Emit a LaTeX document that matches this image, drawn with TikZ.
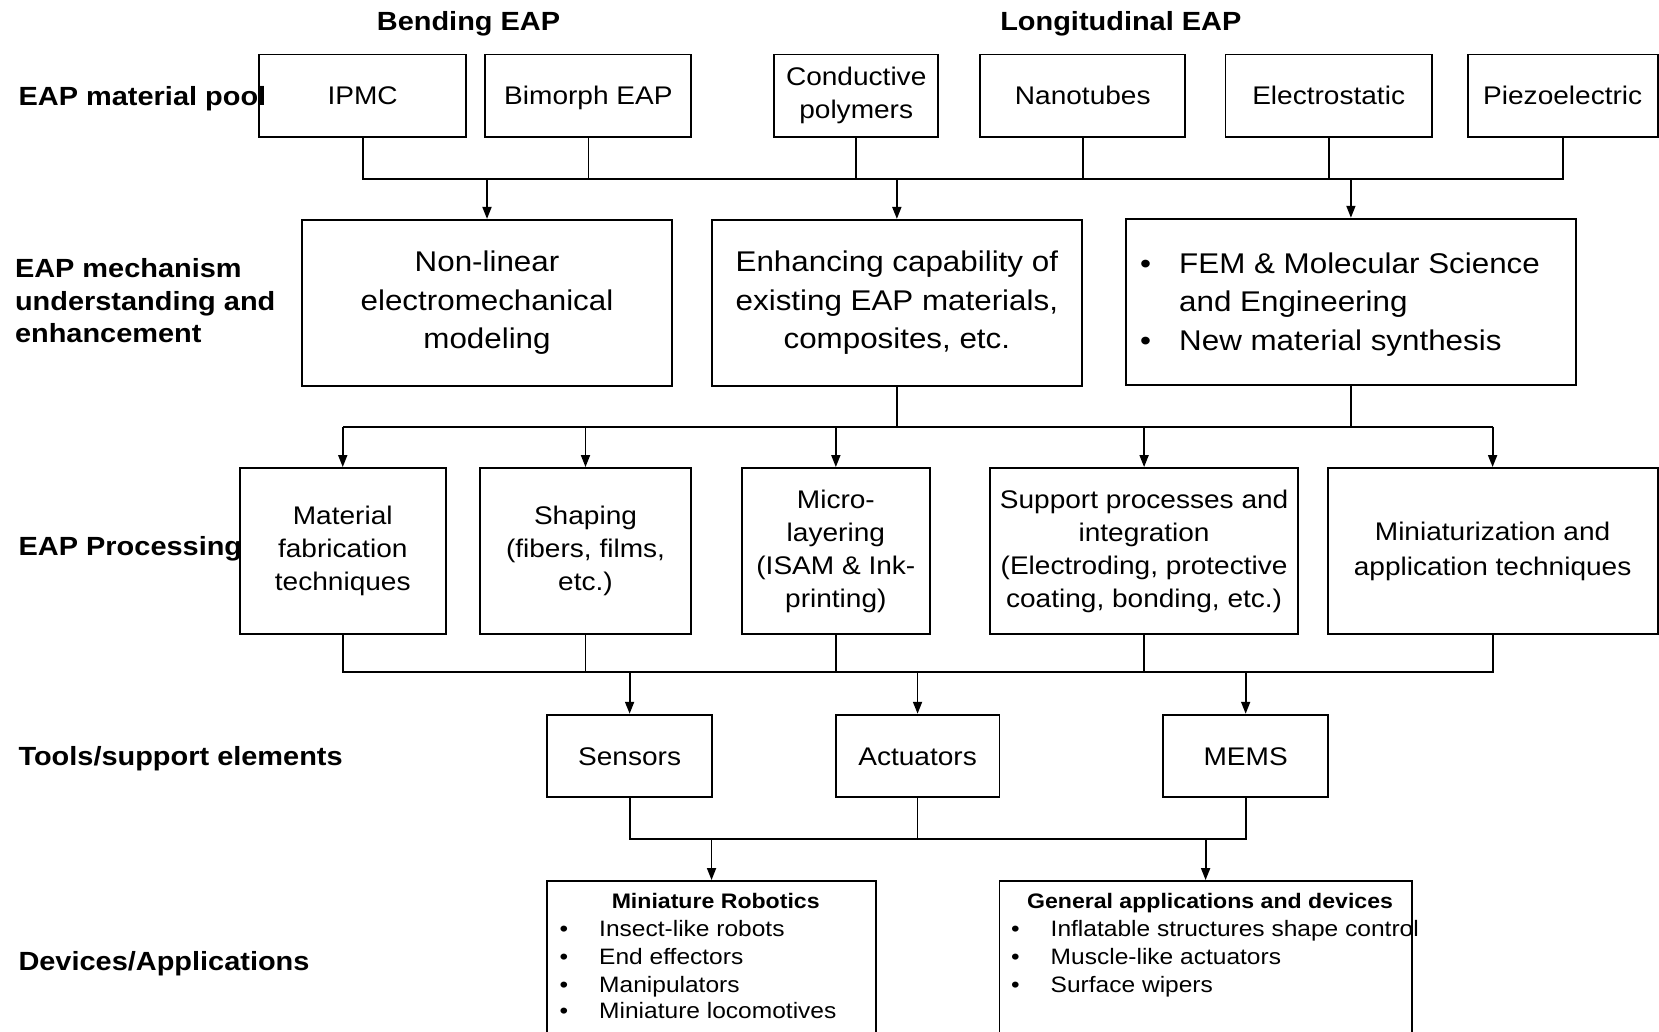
\documentclass[tikz,border=0pt]{standalone}
\usepackage{fontspec}
\setmainfont{Liberation Sans}[FakeStretch=1.1]
\usetikzlibrary{arrows.meta}
\newcommand\myfA{\fontsize{25.5}{33}\selectfont}
\newcommand\myfB{\fontsize{28.5}{38.5}\selectfont}
\newcommand\myfL{\fontsize{26.3}{33}\selectfont\bfseries}
\newcommand\myfD{\fontsize{22.3}{27}\selectfont}
\newcommand\myfT{\fontsize{21}{27}\selectfont\bfseries}
\begin{document}
\begin{tikzpicture}[x=1pt,y=-1pt,
  box/.style={draw, line width=1.9pt, inner sep=0pt, align=center, font=\myfA},
  one/.style={box, text height=22pt, text depth=3.5pt},
  mbox/.style={box, font=\myfB},
  conn/.style={line width=1.8pt},
  arr/.style={line width=1.8pt, -{Triangle[length=12pt,width=9pt]}},
  lab/.style={font=\myfL, anchor=base west, inner sep=0pt},
  txt/.style={anchor=base west, inner sep=0pt},
  bul/.style={anchor=base, inner sep=0pt}]
\fill[white] (0,0) rectangle (1659,1031);
\path[use as bounding box] (0,0) rectangle (1659,1031);
\clip (0,0) rectangle (1659,1031);

% headings
\node[font=\myfL, anchor=base, inner sep=0pt] (hbend) at (468.5,30.7) {Bending EAP};
\node[font=\myfL, anchor=base, inner sep=0pt] (hlong) at (1120.8,30.7) {Longitudinal EAP};

% left labels
\node[lab] (l1) at (18.5,105) {EAP material pool};
\node[lab] (l2a) at (14.8,277) {EAP mechanism};
\node[lab] (l2b) at (14.8,310.5) {understanding and};
\node[lab] (l2c) at (14.8,342.5) {enhancement};
\node[lab] (l3) at (18.5,555.5) {EAP Processing};
\node[lab] (l4) at (18.3,765.5) {Tools/support elements};
\node[lab] (l5) at (18.3,970.5) {Devices/Applications};

% row 1
\node[one, minimum width=206.5pt, minimum height=82.2pt] (ipmc) at (362.65,95.6) {IPMC};
\node[one, minimum width=206pt, minimum height=82.2pt] (bim) at (588.4,95.6) {Bimorph EAP};
\node[box, minimum width=164.4pt, minimum height=82.2pt] (cond) at (856.2,95.6) {Conductive\\polymers};
\node[one, minimum width=205.1pt, minimum height=82.2pt] (nano) at (1082.75,95.6) {Nanotubes};
\node[one, minimum width=206.3pt, minimum height=82.2pt] (elec) at (1328.65,95.6) {Electrostatic};
\node[one, minimum width=190pt, minimum height=82.2pt] (piezo) at (1562.7,95.6) {Piezoelectric};

% row 2
\node[mbox, minimum width=370.6pt, minimum height=166.3pt] (nonlin) at (487,303) {Non-linear\\electromechanical\\modeling};
\node[mbox, minimum width=369.7pt, minimum height=166.3pt] (enh) at (896.85,303) {Enhancing capability of\\existing EAP materials,\\composites, etc.};
\node[mbox, minimum width=450.6pt, minimum height=166.3pt] (fem) at (1350.9,301.85) {};
\node[bul, font=\myfB] (fb1) at (1145.7,273.3) {•};
\node[txt, font=\myfB] (ft1) at (1179,273.3) {FEM \& Molecular Science};
\node[txt, font=\myfB] (ft2) at (1179,311.7) {and Engineering};
\node[bul, font=\myfB] (fb2) at (1145.7,350) {•};
\node[txt, font=\myfB] (ft3) at (1179,350) {New material synthesis};

% row 3
\node[box, minimum width=205.9pt, minimum height=166pt] (mat) at (342.75,551) {Material\\fabrication\\techniques};
\node[box, minimum width=211.8pt, minimum height=166pt] (shap) at (585.5,551) {Shaping\\(fibers, films,\\etc.)};
\node[box, minimum width=188.3pt, minimum height=166pt] (micro) at (835.85,551) {Micro-\\layering\\(ISAM \& Ink-\\printing)};
\node[box, minimum width=307.8pt, minimum height=166pt] (supp) at (1144.1,551) {Support processes and\\integration\\(Electroding, protective\\coating, bonding, etc.)};
\node[box, minimum width=330pt, minimum height=166pt, font=\fontsize{25.5}{35}\selectfont] (mini) at (1492.6,551) {Miniaturization and\\application techniques};

% row 4
\node[one, minimum width=164.6pt, minimum height=82.3pt] (sens) at (629.6,755.85) {Sensors};
\node[one, minimum width=163.9pt, minimum height=82.3pt] (act) at (917.55,755.85) {Actuators};
\node[one, minimum width=164.5pt, minimum height=82.3pt] (mems) at (1245.65,755.85) {MEMS};

% row 5
\node[box, minimum width=328.5pt, minimum height=169pt] (robot) at (711.55,965.5) {};
\node[box, minimum width=412.2pt, minimum height=169pt] (gen) at (1205.6,965.5) {};
\node[font=\myfT, anchor=base, inner sep=0pt] (rt) at (715.7,908.3) {Miniature Robotics};
\node[bul, font=\myfD] (rb1) at (563.9,936.7) {•};
\node[txt, font=\myfD] (r1) at (599,936.7) {Insect-like robots};
\node[bul, font=\myfD] (rb2) at (563.9,964.3) {•};
\node[txt, font=\myfD] (r2) at (599,964.3) {End effectors};
\node[bul, font=\myfD] (rb3) at (563.9,992.3) {•};
\node[txt, font=\myfD] (r3) at (599,992.3) {Manipulators};
\node[bul, font=\myfD] (rb4) at (563.9,1018.3) {•};
\node[txt, font=\myfD] (r4) at (599,1018.3) {Miniature locomotives};
\node[font=\myfT, anchor=base, inner sep=0pt] (gt) at (1210,908.3) {General applications and devices};
\node[bul, font=\myfD] (gb1) at (1015.4,936.7) {•};
\node[txt, font=\myfD] (g1) at (1050.5,936.7) {Inflatable structures shape control};
\node[bul, font=\myfD] (gb2) at (1015.4,964.3) {•};
\node[txt, font=\myfD] (g2) at (1050.5,964.3) {Muscle-like actuators};
\node[bul, font=\myfD] (gb3) at (1015.4,992.3) {•};
\node[txt, font=\myfD] (g3) at (1050.5,992.3) {Surface wipers};

% bus coordinates
\coordinate (b1) at (0,178.7);
\coordinate (b2) at (0,426.7);
\coordinate (b3) at (0,672.3);
\coordinate (b4) at (0,838.7);

% row1 -> row2
\draw[conn] (ipmc.south) -- (ipmc.south |- b1) -- (piezo.south |- b1) -- (piezo.south);
\foreach \n in {bim,cond,nano,elec} \draw[conn] (\n.south) -- (\n.south |- b1);
\foreach \n in {nonlin,enh,fem} \draw[arr] (\n.north |- b1) -- (\n.north);

% row2 -> row3
\draw[conn] (enh.south) -- (enh.south |- b2);
\draw[conn] (fem.south) -- (fem.south |- b2);
\draw[conn] (mat.north |- b2) -- (mini.north |- b2);
\foreach \n in {mat,shap,micro,supp,mini} \draw[arr] (\n.north |- b2) -- (\n.north);

% row3 -> row4
\draw[conn] (mat.south) -- (mat.south |- b3) -- (mini.south |- b3) -- (mini.south);
\foreach \n in {shap,micro,supp} \draw[conn] (\n.south) -- (\n.south |- b3);
\foreach \n in {sens,act,mems} \draw[arr] (\n.north |- b3) -- (\n.north);

% row4 -> row5
\draw[conn] (sens.south) -- (sens.south |- b4) -- (mems.south |- b4) -- (mems.south);
\draw[conn] (act.south) -- (act.south |- b4);
\foreach \n in {robot,gen} \draw[arr] (\n.north |- b4) -- (\n.north);
\end{tikzpicture}
\end{document}
